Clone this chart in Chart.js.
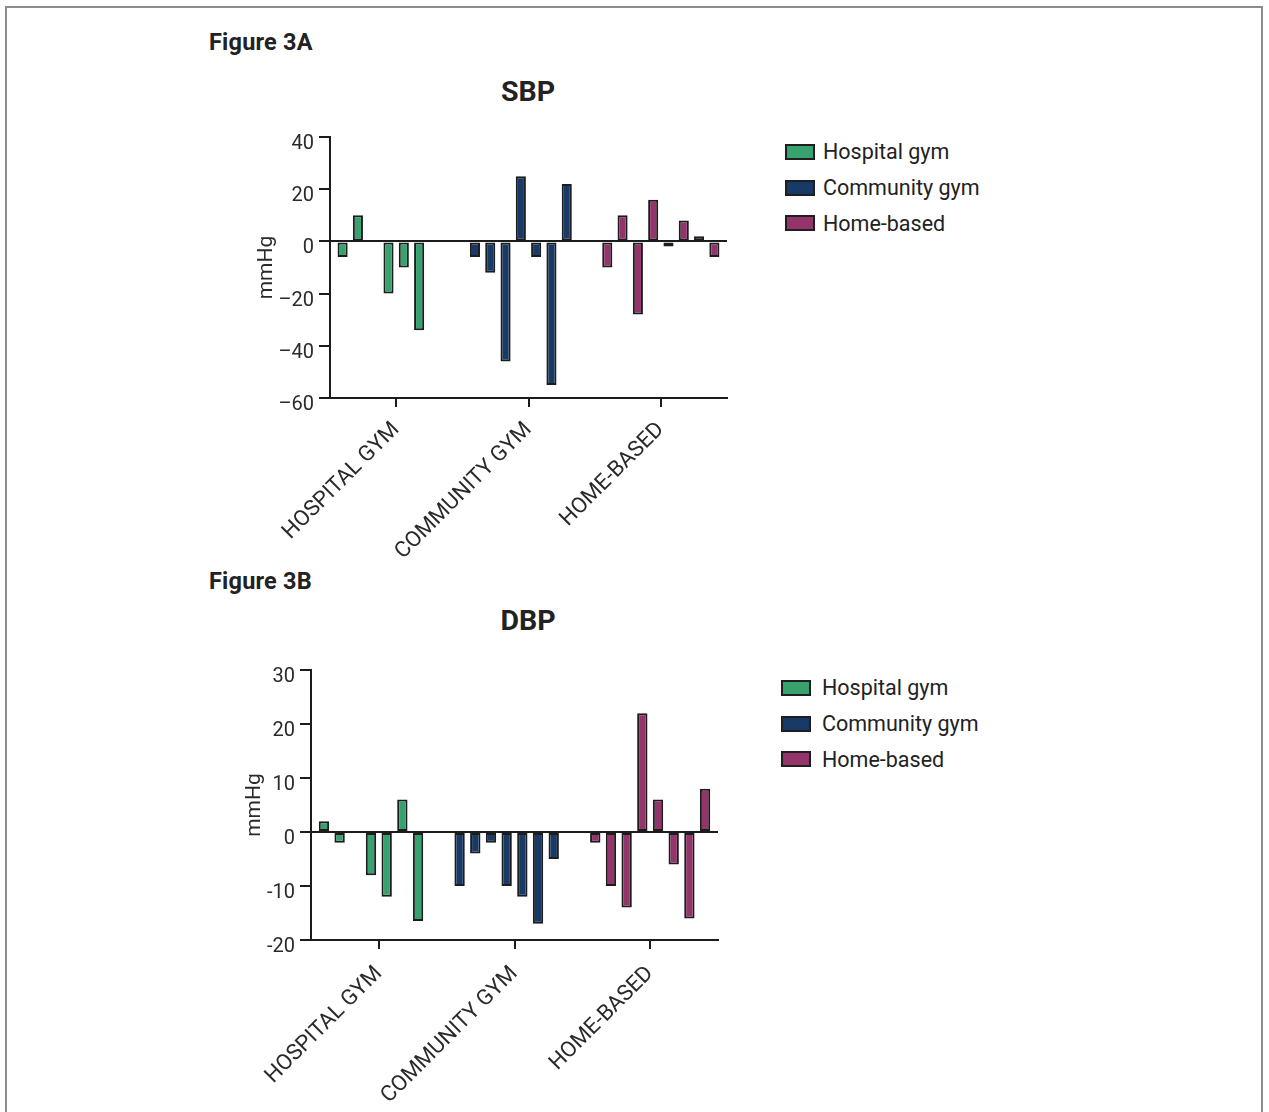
<!DOCTYPE html>
<html>
<head>
<meta charset="utf-8">
<script src="https://cdn.jsdelivr.net/npm/chart.js@4.4.1/dist/chart.umd.min.js"></script>
<style>
  html, body { margin: 0; padding: 0; background: #fff; }
  body { width: 1269px; height: 1112px; position: relative; overflow: hidden; font-family: Roboto, 'Liberation Sans', sans-serif; color: #222; }
  .frame { position: absolute; left: 5px; top: 6px; width: 1254px; height: 1130px; border: 2px solid #8c8c8c; }
  .abs { position: absolute; line-height: 1; white-space: nowrap; }
  .fig { font-weight: 700; font-size: 23.5px; left: 209px; letter-spacing: 0.2px; }
  .ttl { font-weight: 700; font-size: 28.5px; width: 200px; text-align: center; left: 428px; }
  .lg-box { position: absolute; width: 30px; height: 16px; box-sizing: border-box; border: 2px solid #1f1f1f; }
  .lg-txt { position: absolute; font-size: 21.5px; line-height: 1; color: #222; white-space: nowrap; }
  canvas { position: absolute; }
</style>
</head>
<body>
<div class="frame"></div>

<div class="abs fig" style="top:31px">Figure 3A</div>
<div class="abs ttl" style="top:78px">SBP</div>
<div class="abs fig" style="top:570px">Figure 3B</div>
<div class="abs ttl" style="top:607px">DBP</div>

<div id="legend-sbp"></div>
<div id="legend-dbp"></div>

<canvas id="sbp-chart" width="510" height="440" style="left:230px; top:120px"></canvas>
<canvas id="dbp-chart" width="520" height="457" style="left:211px; top:653px"></canvas>

<script>
/* ── DATA ── */
const groups      = ['HOSPITAL GYM', 'COMMUNITY GYM', 'HOME-BASED'];
const legendNames = ['Hospital gym', 'Community gym', 'Home-based'];
const groupColors = ['#38a26f', '#173a66', '#93346b'];

// change per patient, 8 slots per group, null = no bar
const sbpHospital  = [-6, 10, null, -20, -10, -34, null, null];
const sbpCommunity = [-6, -12, -46, 25, -6, -55, 22, null];
const sbpHome      = [-10, 10, -28, 16, -2, 8, 2, -6];

const dbpHospital  = [2, -2, null, -8, -12, 6, -16.5, null];
const dbpCommunity = [-10, -4, -2, -10, -12, -17, -5, null];
const dbpHome      = [-2, -10, -14, 22, 6, -6, -16, 8];

const sbpTicks = [40, 20, 0, -20, -40, -60];
const dbpTicks = [30, 20, 10, 0, -10, -20];

/* ── THEME ── */
const INK  = '#1c1c1c';
const TEXT = '#2a2a2a';
const FONT = "Roboto, 'Liberation Sans', sans-serif";

/* ── LEGEND (html) ── */
function buildLegend(el, left, top, textLeft) {
  legendNames.forEach((name, i) => {
    const y = top + i * 35.7;
    const box = document.createElement('div');
    box.className = 'lg-box';
    box.style.left = left + 'px';
    box.style.top = y + 'px';
    box.style.background = groupColors[i];
    el.appendChild(box);
    const t = document.createElement('div');
    t.className = 'lg-txt';
    t.textContent = name;
    t.style.left = textLeft + 'px';
    t.style.top = (y - 2.6) + 'px';
    el.appendChild(t);
  });
}

/* ── BAR CHART ── */
function makeChart(id, series, ticks, fmt, opts) {
  const datasets = [];
  for (let i = 0; i < 8; i++) {
    datasets.push({
      data: series.map(s => s[i]),
      backgroundColor: groupColors,
      borderColor: INK,
      borderWidth: 2,
      borderSkipped: false,
      categoryPercentage: 0.925,
      barPercentage: 0.66,
    });
  }
  const yMin = Math.min(...ticks);
  const yMax = Math.max(...ticks);

  return new Chart(document.getElementById(id), {
    type: 'bar',
    data: { labels: groups, datasets },
    options: {
      responsive: false,
      animation: false,
      layout: { padding: { top: 14, right: 13, left: 0, bottom: 0 } },
      plugins: { legend: { display: false }, tooltip: { enabled: false } },
      scales: {
        x: {
          grid: { offset: false, drawOnChartArea: false, tickColor: INK, tickLength: 9, lineWidth: 2 },
          border: { color: INK, width: 2 },
          ticks: { minRotation: 45, maxRotation: 45, color: TEXT, padding: opts.xPad, font: { family: FONT, size: 22 } },
          afterFit: s => { s.height = opts.xHeight; },
        },
        y: {
          min: yMin,
          max: yMax,
          afterBuildTicks: s => { s.ticks = ticks.map(v => ({ value: v })); },
          grid: {
            color: c => (c.tick && c.tick.value === 0 ? INK : 'rgba(0,0,0,0)'),
            tickColor: INK,
            tickLength: 11,
            lineWidth: 2,
          },
          border: { color: INK, width: 2 },
          ticks: { color: TEXT, padding: 5, labelOffset: 7, font: { family: FONT, size: 20 }, callback: fmt },
          title: { display: true, text: 'mmHg', color: TEXT, font: { family: FONT, size: 21 }, padding: { top: opts.titlePad, bottom: 0 } },
          afterFit: s => { s.width = 100; },
        },
      },
    },
  });
}

buildLegend(document.getElementById('legend-sbp'), 785, 144, 823);
buildLegend(document.getElementById('legend-dbp'), 781, 680, 822);

makeChart('sbp-chart', [sbpHospital, sbpCommunity, sbpHome], sbpTicks,
  v => (v < 0 ? '\u2013' + Math.abs(v) : String(v)), { xHeight: 162, titlePad: 24, xPad: 10 });

makeChart('dbp-chart', [dbpHospital, dbpCommunity, dbpHome], dbpTicks,
  v => String(v), { xHeight: 170, titlePad: 31, xPad: 12 });
</script>
</body>
</html>
